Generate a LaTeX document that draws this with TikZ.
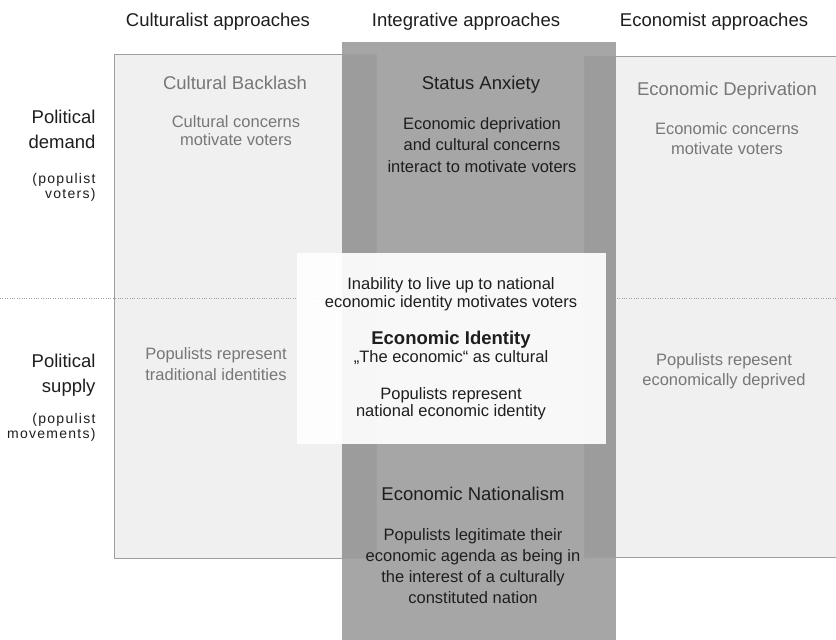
\documentclass[tikz,border=0pt]{standalone}
\usepackage{fontspec}
\setmainfont{Liberation Sans}
\newfontfamily\spacedfont[LetterSpace=9]{Liberation Sans}
\definecolor{darkcol}{HTML}{A6A6A6}
\definecolor{edgecol}{HTML}{9E9E9E}
\definecolor{dimtext}{HTML}{777777}
\definecolor{inktext}{HTML}{1E1E1E}
\begin{document}
\begin{tikzpicture}[x=1pt,y=-1pt,
	head/.style={font=\fontsize{18.5}{22}\selectfont,text=inktext},
	rowlab/.style={anchor=east,align=right,font=\fontsize{18.5}{25}\selectfont,text=inktext},
	rowsub/.style={anchor=east,align=right,font=\spacedfont\fontsize{14}{15}\selectfont,text=inktext},
	title/.style={font=\fontsize{18.5}{22}\selectfont},
	body/.style={align=center,font=\fontsize{16.5}{#1}\selectfont},
	dim/.style={text=dimtext},
	ink/.style={text=inktext},
	lightbox/.style={fill=black,fill opacity=0.06,draw=edgecol,line width=0.8pt}]
	\def\xL{114};
	\def\xR{584};
	\def\xA{342};
	\def\xB{616};
	\def\ymid{298};
	\coordinate (P) at (0,0);
	\coordinate (Q) at (836,640);
	\useasboundingbox (P) rectangle (Q);
	\fill[white] (P) rectangle (Q);
	% integrative column
	\fill[darkcol] (\xA,42) rectangle (\xB,640);
	% culturalist and economist columns
	\filldraw[lightbox] (\xL,54) rectangle (376,558);
	\fill[lightbox] (\xR,56) rectangle (850,557);
	\draw[edgecol,line width=0.8pt] (850,56) -- (\xR,56) -- (\xR,557) -- (850,557);
	\draw[edgecol,line width=0.8pt,dash pattern=on 0.8pt off 1.6pt] (0,\ymid) -- (836,\ymid);
	% economic identity
	\fill[white,fill opacity=0.92] (297,253) rectangle (606,444);
	\node[head] (hcult) at (218,22) {Culturalist approaches};
	\node[head] (hinteg) at (466,22) {Integrative approaches};
	\node[head] (hecon) at (714,22) {Economist approaches};
	\node[rowlab] (demand) at (99,129) {Political\\demand};
	\node[rowsub] (voters) at (99,187) {(populist\\voters)};
	\node[rowlab] (supply) at (99,375) {Political\\supply};
	\node[rowsub] (movements) at (99,427) {(populist\\movements)};
	\node[title,dim] (backlash) at (235,83) {Cultural Backlash};
	\node[body=18,dim] (backlashtxt) at (236,131) {Cultural concerns\\motivate voters};
	\node[title,ink] (anxiety) at (481,85) {Status Anxiety};
	\node[body=21.5,ink] (anxietytxt) at (482,145) {Economic deprivation\\and cultural concerns\\interact to motivate voters};
	\node[title,dim] (deprivation) at (727,91) {Economic Deprivation};
	\node[body=20,dim] (deprivationtxt) at (727,139) {Economic concerns\\motivate voters};
	\node[body=18,ink] (inability) at (451,294) {Inability to live up to national\\economic identity motivates voters};
	\node[title,ink,font=\bfseries\fontsize{18.5}{22}\selectfont] (identity) at (451,340) {Economic Identity};
	\node[body=18,ink] (identitysub) at (451,358) {„The economic“ as cultural};
	\node[body=17,ink] (identitytxt) at (451,404) {Populists represent\\national economic identity};
	\node[body=21,dim] (traditional) at (216,364) {Populists represent\\traditional identities};
	\node[body=20,dim] (deprived) at (724,371) {Populists repesent\\economically deprived};
	\node[title,ink] (nationalism) at (473,494) {Economic Nationalism};
	\node[body=21,ink] (nationalismtxt) at (473,566) {Populists legitimate their\\economic agenda as being in\\the interest of a culturally\\constituted nation};
\end{tikzpicture}
\end{document}
